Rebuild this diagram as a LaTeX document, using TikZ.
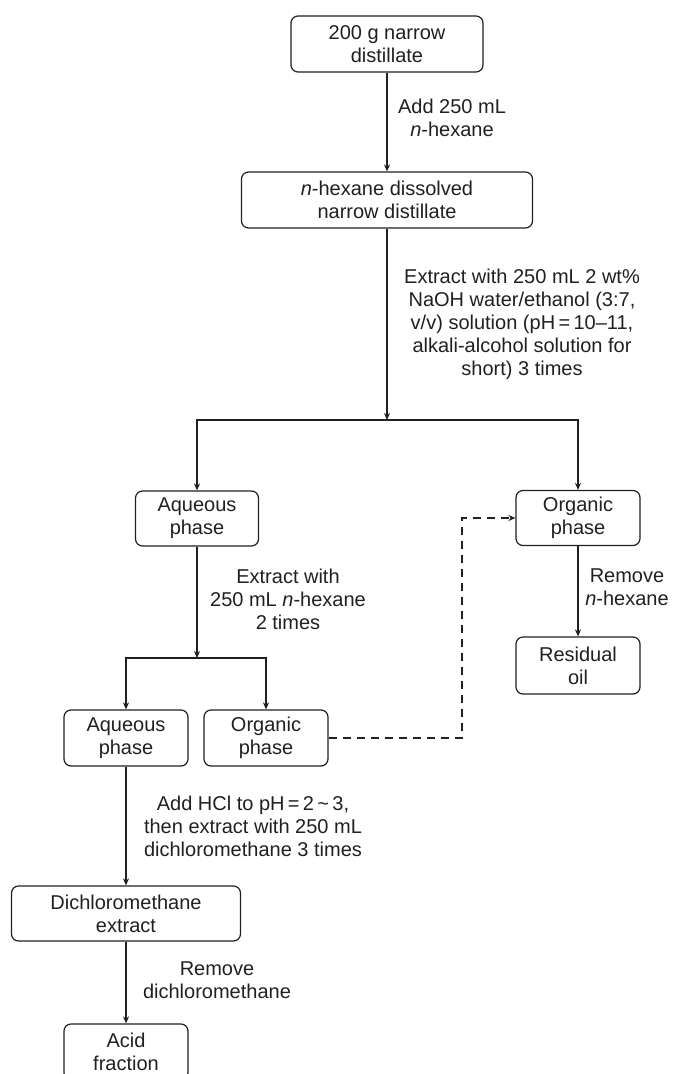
\documentclass[tikz,border=0pt]{standalone}
\usepackage{fontspec}
\setmainfont{Liberation Sans}
\usetikzlibrary{arrows.meta}
\definecolor{ink}{HTML}{231F20}
\begin{document}
\begin{tikzpicture}[x=1pt,y=-1pt,
  txt/.style={font=\fontsize{20}{23}\selectfont, text=ink},
  box/.style={txt, draw=ink, line width=1.2pt, rounded corners=7pt, minimum height=56pt, inner sep=0pt, align=center},
  lbl/.style={txt, align=center, inner sep=0pt},
  arr/.style={draw=ink, line width=1.2pt, -{Stealth[length=7pt,width=6pt]}},
  darr/.style={arr, dash pattern=on 8pt off 6pt}
]
\useasboundingbox (0,0) rectangle (673,1074);

% boxes
\node[box, minimum width=192pt] (b1) at (387,44) {200 g narrow\\distillate};
\node[box, minimum width=291pt] (b2) at (387,200) {\textit{n}-hexane dissolved\\narrow distillate};
\node[box, minimum width=123pt, minimum height=55pt] (aq1) at (197,518.5) {Aqueous\\phase};
\node[box, minimum width=124pt, minimum height=55pt] (org1) at (578,518) {Organic\\phase};
\node[box, minimum width=124pt, minimum height=57pt] (res) at (578,665.5) {Residual\\oil};
\node[box, minimum width=124pt] (aq2) at (126,738) {Aqueous\\phase};
\node[box, minimum width=124pt] (org2) at (266,738) {Organic\\phase};
\node[box, minimum width=229pt, minimum height=55pt] (dcm) at (126,913.5) {Dichloromethane\\extract};
\node[box, minimum width=124pt] (acid) at (126,1052) {Acid\\fraction};

% junctions
\coordinate (j1) at (387,420);
\coordinate (j2) at (197,658);
\coordinate (d1) at (462,738);

% connectors
\draw[arr] (b1) -- (b2);
\draw[arr] (b2) -- (j1);
\draw[arr] (j1) -| (aq1);
\draw[arr] (j1) -| (org1);
\draw[arr] (org1) -- (res);
\draw[arr] (aq1) -- (j2);
\draw[arr] (j2) -| (aq2);
\draw[arr] (j2) -| (org2);
\draw[darr] (org2.east) -- (d1) |- (org1.west);
\draw[arr] (aq2) -- (dcm);
\draw[arr] (dcm) -- (acid);

% labels
\node[lbl] (l1) at (452,118) {Add 250 mL\\\textit{n}-hexane};
\node[lbl] (l2) at (522,324) {Extract with 250 mL 2 wt\%\\NaOH water/ethanol (3:7,\\v/v) solution (pH\,=\,10--11,\\alkali-alcohol solution for\\short) 3 times};
\node[lbl] (l3) at (288,599) {Extract with\\250 mL \textit{n}-hexane\\2 times};
\node[lbl] (l4) at (627,587) {Remove\\\textit{n}-hexane};
\node[lbl] (l5) at (253,826) {Add HCl to pH\,=\,2\,\textasciitilde\,3,\\then extract with 250 mL\\dichloromethane 3 times};
\node[lbl] (l6) at (217,980) {Remove\\dichloromethane};
\end{tikzpicture}
\end{document}
